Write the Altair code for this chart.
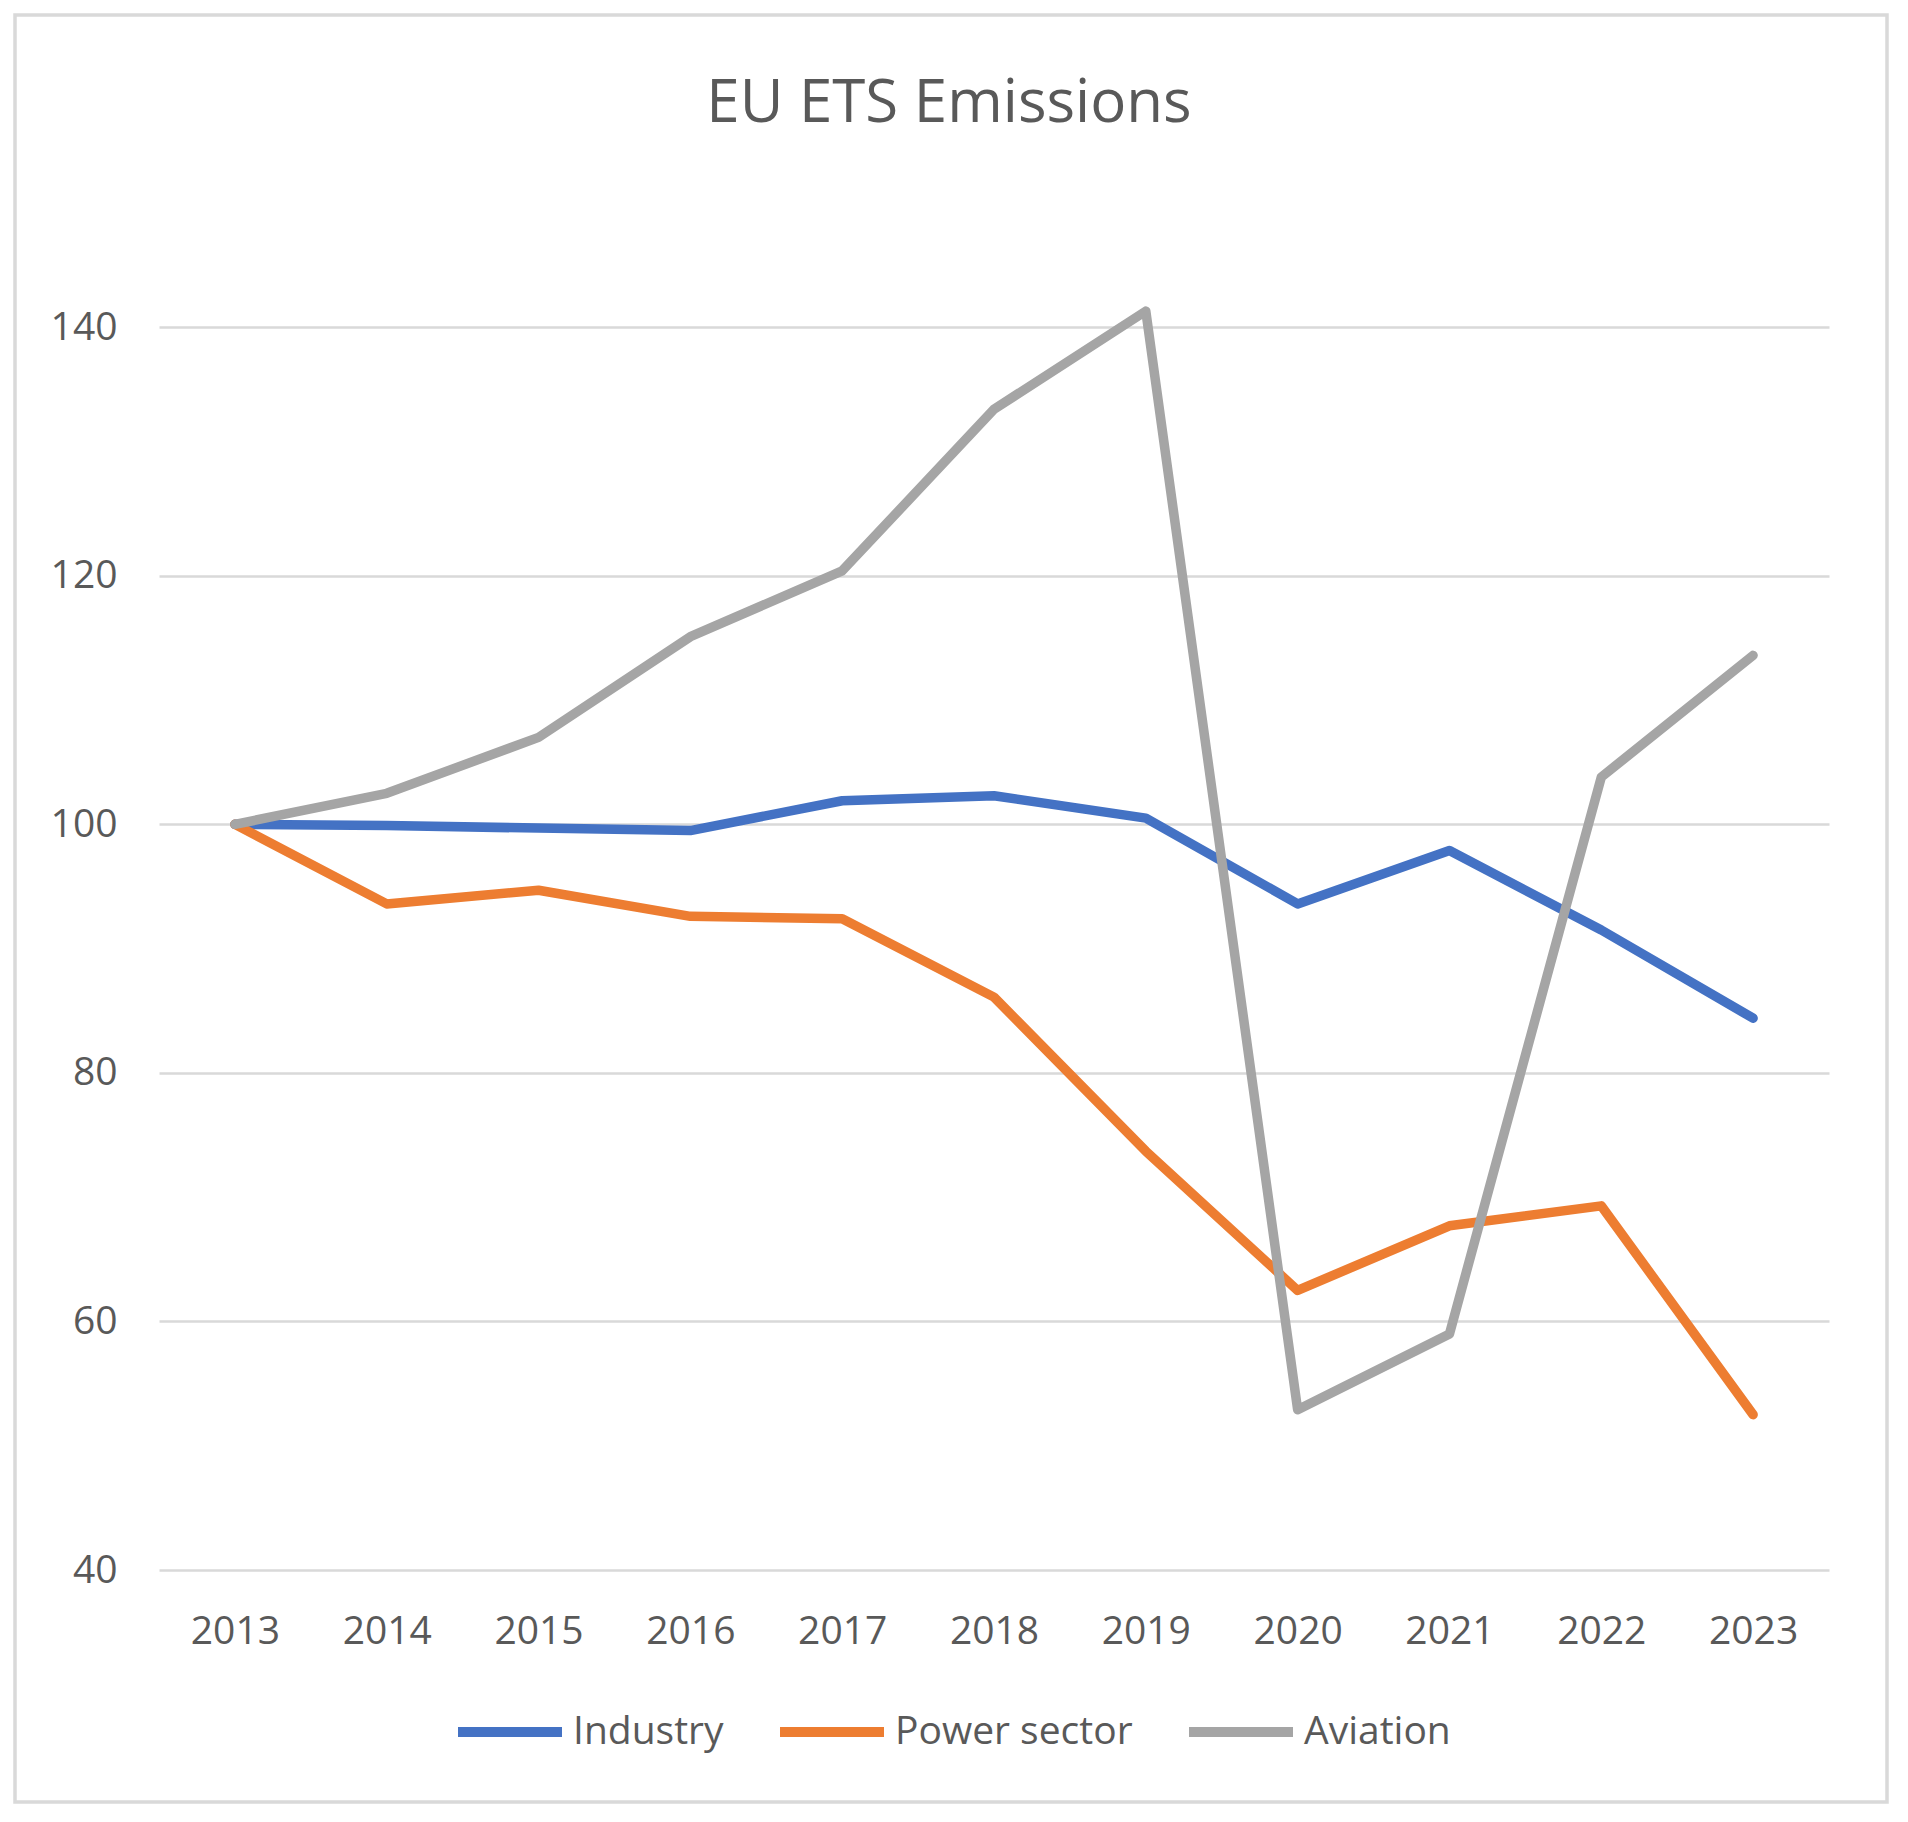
import altair as alt
import pandas as pd

years = ["2013", "2014", "2015", "2016", "2017", "2018", "2019", "2020", "2021", "2022", "2023"]
industry = [100, 99.9, 99.7, 99.5, 101.9, 102.3, 100.5, 93.6, 97.9, 91.5, 84.4]
power_sector = [100, 93.6, 94.7, 92.6, 92.4, 86.1, 73.7, 62.5, 67.7, 69.3, 52.5]
aviation = [100, 102.5, 107.0, 115.1, 120.4, 133.4, 141.3, 52.9, 59.0, 103.8, 113.6]

series_names = ["Industry", "Power sector", "Aviation"]
series_colors = ["#4472C4", "#ED7D31", "#A5A5A5"]
y_ticks = [40, 60, 80, 100, 120, 140]

rows = []
for name, vals in zip(series_names, [industry, power_sector, aviation]):
    for yr, v in zip(years, vals):
        rows.append({"Year": yr, "Value": v, "Series": name})
df = pd.DataFrame(rows)

FONT = "Open Sans"
TXT = "#595959"
W, H = 1670, 1367

color = alt.Color(
    "Series:N",
    scale=alt.Scale(domain=series_names, range=series_colors),
    legend=alt.Legend(
        title=None,
        orient="none",
        legendX=294,
        legendY=1472,
        direction="horizontal",
        symbolType="stroke",
        symbolSize=10816,
        symbolStrokeWidth=10,
        labelFontSize=39,
        labelFont=FONT,
        labelColor=TXT,
        labelOffset=6,
        labelLimit=0,
        columnPadding=36,
    ),
)

x = alt.X(
    "Year:O",
    sort=years,
    scale=alt.Scale(type="point", padding=0.5),
    axis=alt.Axis(
        title=None, labelAngle=0, ticks=False, domain=False, grid=False,
        labelFontSize=39, labelFont=FONT, labelColor=TXT, labelPadding=42,
    ),
)
y = alt.Y(
    "Value:Q",
    scale=alt.Scale(domain=[40, 150], nice=False, zero=False),
    axis=alt.Axis(
        title=None, values=y_ticks, ticks=False, domain=False, grid=True,
        gridColor="#D9D9D9", gridWidth=2.5,
        labelFontSize=39, labelFont=FONT, labelColor=TXT, labelPadding=42,
    ),
)

frame = alt.Chart(pd.DataFrame({"a": [0]})).mark_rect(
    fill=None, stroke="#D9D9D9", strokeWidth=3.5
).encode(
    x=alt.value(-144), x2=alt.value(1728), y=alt.value(-188), y2=alt.value(1599)
)

layers = [frame]
for name in series_names:
    layers.append(
        alt.Chart(df).transform_filter(alt.datum.Series == name).mark_line(
            strokeWidth=9.5, strokeCap="round", strokeJoin="round"
        ).encode(x=x, y=y, color=color)
    )

chart = alt.layer(*layers).properties(
    width=W,
    height=H,
    background="white",
    title=alt.TitleParams(
        "EU ETS Emissions", anchor="middle", fontSize=60, font=FONT,
        fontWeight="normal", color=TXT, offset=-169, baseline="alphabetic",
        dx=-45,
    ),
    autosize=alt.AutoSizeParams(type="none"),
    padding={"left": 151, "top": 195, "right": 71, "bottom": 250},
).configure_view(strokeWidth=0, stroke=None)

chart.save("out.html", embed_options={"renderer": "svg", "actions": False})
